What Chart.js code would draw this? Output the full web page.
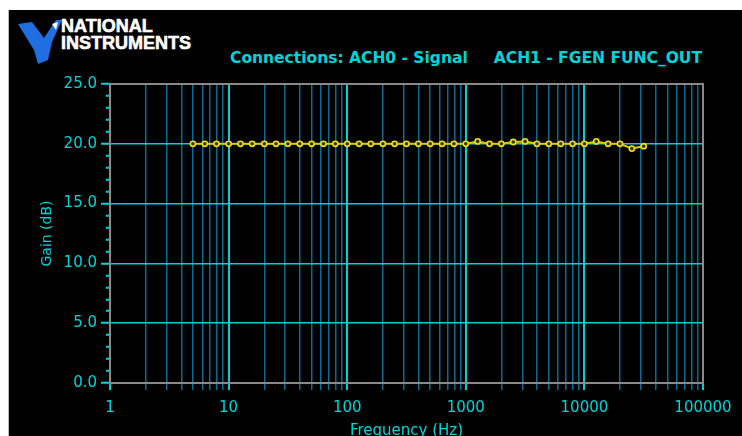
<!DOCTYPE html>
<html>
<head>
<meta charset="utf-8">
<script src="https://cdn.jsdelivr.net/npm/chart.js@4.4.1/dist/chart.umd.min.js"></script>
<style>
  html, body { margin: 0; padding: 0; background: #fff; overflow: hidden; }
  #wrap { position: relative; width: 742px; height: 436px; overflow: hidden; }
  #panel { position: absolute; left: 8px; top: 10px; right: 0; bottom: 0; background: #000; border-left: 1px solid #bbb; }
  #logo { position: absolute; left: 16px; top: 18px; }
  .ni { position: absolute; left: 61px; color: #fff; font-family: "Liberation Sans", Arial, sans-serif; font-weight: bold; font-size: 18px; line-height: 18px; -webkit-text-stroke: 0.6px #fff; }
  .head { position: absolute; top: 49px; color: #00d4d8; font-family: "DejaVu Sans", sans-serif; font-weight: bold; font-size: 15.5px; white-space: pre; }
  canvas { position: absolute; left: 0; top: 0; }
</style>
</head>
<body>
<div id="wrap">
  <div id="panel"></div>
  <svg id="logo" width="46" height="46" viewBox="0 0 46 46">
    <polygon points="2,6 16,4 28,20 40,2 46,2 36,24 32,42 22,46 18,32" fill="#1f6fe0"/>
    <polygon points="36,6 42,4 40,12" fill="#ffffff"/>
  </svg>
  <div class="ni" style="top:17px;">NATIONAL</div>
  <div class="ni" style="top:34px;">INSTRUMENTS</div>
  <div class="head" style="left:230px;">Connections: ACH0 - Signal</div>
  <div class="head" style="right:40px;">ACH1 - FGEN FUNC_OUT</div>
  <canvas id="gainChart" width="742" height="440"></canvas>
</div>
<script>
// frequency points (Hz) and measured gain (dB)
const freqs = [5, 6.3, 7.9, 10, 12.6, 15.8, 20, 25.1, 31.6, 39.8,
  50.1, 63.1, 79.4, 100, 126, 158, 200, 251, 316, 398,
  501, 631, 794, 1000, 1259, 1585, 1995, 2512, 3162, 3981,
  5012, 6310, 7943, 10000, 12589, 15849, 19953, 25119, 31623];
const gains = [20.0, 20.0, 20.0, 20.0, 20.0, 20.0, 20.0, 20.0, 20.0, 20.0,
  20.0, 20.0, 20.0, 20.0, 20.0, 20.0, 20.0, 20.0, 20.0, 20.0,
  20.0, 20.0, 20.0, 20.0, 20.2, 20.0, 20.0, 20.15, 20.2, 20.0,
  20.0, 20.0, 20.0, 20.0, 20.2, 20.0, 20.0, 19.6, 19.8];

const xTickLabels = ['1', '10', '100', '1000', '10000', '100000'];
const yTickLabels = ['0.0', '5.0', '10.0', '15.0', '20.0', '25.0'];

const CYAN = '#00d4d8';
const GRID_MAJOR = '#00d0d8';
const GRID_MINOR = '#0b6a90';
const FRAME = '#8a8a8a';
const FONT = '"DejaVu Sans", sans-serif';

const isDecade = v => xTickLabels.includes(String(Math.round(v))) && Math.abs(Math.log10(v) - Math.round(Math.log10(v))) < 1e-9;

const frame = {
  id: 'frame',
  afterDraw(chart) {
    const a = chart.chartArea, c = chart.ctx;
    c.save();
    c.strokeStyle = FRAME;
    c.lineWidth = 2;
    c.strokeRect(a.left, a.top, a.right - a.left, a.bottom - a.top);
    c.restore();
  }
};

new Chart(document.getElementById('gainChart'), {
  type: 'line',
  data: {
    datasets: [{
      data: freqs.map((f, i) => ({ x: f, y: gains[i] })),
      borderColor: '#dccc00',
      borderWidth: 2,
      pointStyle: 'circle',
      pointRadius: 2.6,
      pointBorderWidth: 1.6,
      pointBorderColor: '#f0e010',
      pointBackgroundColor: '#3a3400',
      tension: 0
    }]
  },
  options: {
    responsive: false,
    animation: false,
    layout: { padding: { left: 39, top: 84, right: 39, bottom: 0 } },
    plugins: { legend: { display: false }, tooltip: { enabled: false } },
    scales: {
      x: {
        type: 'logarithmic',
        min: 1, max: 100000,
        afterBuildTicks(scale) {
          const t = [];
          for (let d = 1; d < 100000; d *= 10) {
            for (let m = 1; m <= 9; m++) t.push({ value: m * d });
          }
          t.push({ value: 100000 });
          scale.ticks = t;
        },
        afterFit(scale) { scale.height = 440 - 383; },
        border: { display: false },
        grid: {
          color: ctx => isDecade(ctx.tick.value) ? GRID_MAJOR : GRID_MINOR,
          tickColor: ctx => isDecade(ctx.tick.value) ? GRID_MAJOR : GRID_MINOR,
          lineWidth: ctx => isDecade(ctx.tick.value) ? 2 : 1.5,
          tickLength: 7
        },
        ticks: {
          autoSkip: false,
          maxRotation: 0,
          color: CYAN,
          font: { family: FONT, size: 15 },
          padding: 9,
          callback: v => isDecade(v) ? String(Math.round(v)) : ''
        },
        title: {
          display: true,
          text: 'Frequency (Hz)',
          color: CYAN,
          font: { family: FONT, size: 15 },
          padding: 0
        }
      },
      y: {
        min: 0, max: 25,
        afterFit(scale) { scale.width = 110 - 39; },
        border: { display: false },
        grid: {
          color: ctx => (ctx.tick.value % 5 === 0 && ctx.tick.value > 0 && ctx.tick.value < 25) ? GRID_MAJOR : 'transparent',
          lineWidth: 1.5,
          tickColor: CYAN,
          tickLength: 9,
          tickWidth: 2,
          tickBorderDash: ctx => ctx.tick.value % 5 === 0 ? [] : [0, 5, 4, 100]
        },
        ticks: {
          stepSize: 1,
          autoSkip: false,
          color: CYAN,
          font: { family: FONT, size: 15 },
          padding: 4,
          callback: v => v % 5 === 0 ? yTickLabels[v / 5] : ''
        },
        title: {
          display: true,
          text: 'Gain (dB)',
          color: CYAN,
          font: { family: FONT, size: 14 },
          padding: 0
        }
      }
    }
  },
  plugins: [frame]
});
</script>
</body>
</html>
